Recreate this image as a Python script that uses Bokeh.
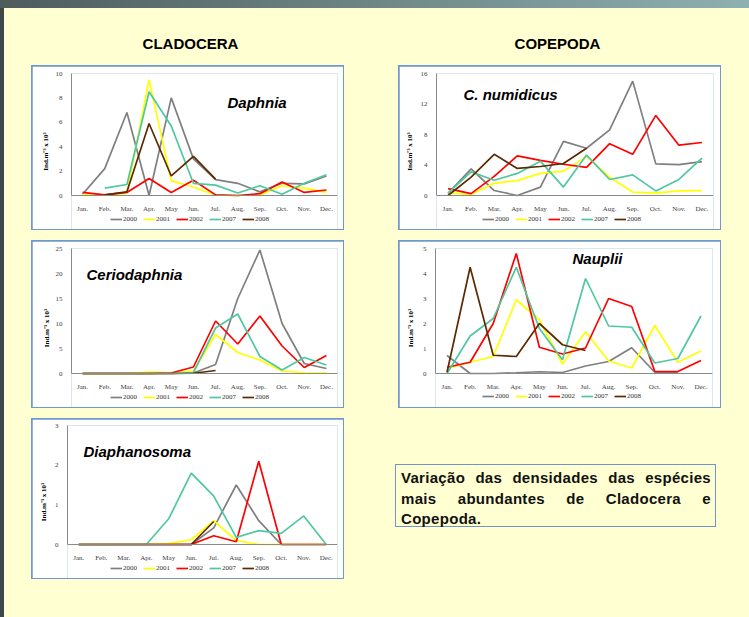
import numpy as np
from bokeh.plotting import figure
from bokeh.models import Range1d, FixedTicker, Legend, LegendItem, Label, Div, Spacer
from bokeh.layouts import column, row
from bokeh.embed import file_html
from bokeh.resources import INLINE

NA = np.nan

months = ["Jan.", "Feb.", "Mar.", "Apr.", "May", "Jun.", "Jul.", "Aug.", "Sep.", "Oct.", "Nov.", "Dec."]
years = ["2000", "2001", "2002", "2007", "2008"]
y_label = "Ind.m\u207b\u00b3 x 10\u00b3"

daphnia = {
    "2000": [0.1, 2.2, 6.8, 0.0, 8.0, 3.0, 1.3, 1.0, 0.3, 1.0, 0.95, 1.6],
    "2001": [0.1, 0.0, 0.2, 9.5, 1.2, 0.7, 0.05, 0.0, 0.05, 0.8, 0.6, 0.25],
    "2002": [0.25, 0.05, 0.25, 1.4, 0.25, 1.25, 0.05, 0.0, 0.15, 1.1, 0.25, 0.45],
    "2007": [NA, 0.6, 0.9, 8.5, 5.7, 1.0, 0.85, 0.2, 0.8, 0.1, 1.0, 1.7],
    "2008": [NA, 0.05, 0.3, 5.9, 1.6, 3.2, 1.35, NA, NA, NA, NA, NA],
}
c_numidicus = {
    "2000": [0.3, 3.5, 0.65, 0.0, 1.1, 7.1, 6.2, 8.6, 15.0, 4.15, 4.05, 4.45],
    "2001": [0.35, 0.15, 1.6, 1.95, 2.9, 3.2, 5.1, 2.4, 0.45, 0.3, 0.6, 0.65],
    "2002": [0.9, 0.25, 2.5, 5.2, 4.6, 4.1, 3.7, 6.8, 5.4, 10.5, 6.6, 6.95],
    "2007": [0.3, 3.1, 2.0, 2.9, 4.5, 1.1, 5.3, 2.1, 2.7, 0.6, 2.1, 4.9],
    "2008": [0.0, 2.4, 5.4, 3.55, 3.8, 4.2, 6.2, NA, NA, NA, NA, NA],
}
ceriodaphnia = {
    "2000": [0, 0, 0, 0, 0, 0.1, 1.8, 15.0, 24.7, 10.0, 2.0, 1.0],
    "2001": [0, 0, 0, 0.3, 0.15, 0.5, 7.8, 4.2, 2.7, 0.5, 0.15, 0.1],
    "2002": [0, 0, 0, 0, 0.1, 1.3, 10.5, 5.9, 11.5, 5.5, 1.2, 3.6],
    "2007": [0, 0, 0, 0, 0, 0.2, 9.1, 11.9, 3.4, 0.7, 3.2, 1.7],
    "2008": [0, 0, 0, 0, 0, 0.05, 0.6, NA, NA, NA, NA, NA],
}
nauplii = {
    "2000": [0.72, 0.0, 0.0, 0.03, 0.07, 0.04, 0.3, 0.48, 1.03, 0.05, 0.05, NA],
    "2001": [0.2, 0.45, 0.68, 2.95, 2.15, 0.38, 1.67, 0.5, 0.22, 1.92, 0.45, 0.9],
    "2002": [0.25, 0.45, 2.0, 4.8, 1.05, 0.78, 1.02, 3.0, 2.68, 0.08, 0.08, 0.52],
    "2007": [0.0, 1.5, 2.2, 4.25, 1.8, 0.55, 3.8, 1.9, 1.85, 0.42, 0.6, 2.3],
    "2008": [0.05, 4.25, 0.73, 0.68, 2.0, 1.15, 0.92, NA, NA, NA, NA, NA],
}
diaphanosoma = {
    "2000": [0, 0, 0, 0, 0, 0, 0.42, 1.5, 0.6, 0.0, 0, 0],
    "2001": [0, 0, 0, 0, 0.02, 0.12, 0.6, 0.1, 0.0, 0.0, 0, 0],
    "2002": [0, 0, 0, 0, 0, 0, 0.22, 0.07, 2.1, 0, 0, 0],
    "2007": [0, 0, 0, 0, 0.65, 1.8, 1.22, 0.18, 0.35, 0.28, 0.72, 0.0],
    "2008": [0, 0, 0, 0, 0, 0, 0.58, NA, NA, NA, NA, NA],
}

colors = {"2000": "#7F7F7F", "2001": "#FFFF00", "2002": "#FF0000",
          "2007": "#4FC8A0", "2008": "#5C2A00"}
BG = "#FFFFD2"
BORDER = "#6F98CF"
SERIF = "Liberation Serif"
SANS = "Liberation Sans"


def make_panel(data, ymax, ystep, title, pw, ph, ml, mr, mt, below,
               title_dx, title_dy, lab_standoff, leg_dx, leg_up):
    # below: pixels between y=0 and the bottom of the panel canvas
    w, h = pw - 2, ph - 2
    plot_h = h - mt - below          # pixel height of the 0..ymax span
    ymin = -ymax * below / plot_h
    p = figure(width=w, height=h, x_range=Range1d(0.5, 12.5), y_range=Range1d(ymin, ymax),
               output_backend="svg", toolbar_location=None,
               min_border_left=ml, min_border_right=mr, min_border_top=mt, min_border_bottom=0)
    p.margin = (1, 1, 1, 1)
    p.border_fill_color = "white"
    p.background_fill_color = "white"
    p.outline_line_color = None
    p.xgrid.visible = False
    p.ygrid.visible = False

    x = np.arange(1, 13)
    p.xaxis.fixed_location = 0
    p.xaxis.ticker = FixedTicker(ticks=list(range(1, 13)))
    p.xaxis.major_label_overrides = {i + 1: m for i, m in enumerate(months)}
    p.yaxis.ticker = FixedTicker(ticks=list(np.arange(0, ymax + ystep / 2, ystep)))
    p.yaxis.bounds = (0, ymax)
    for ax in (p.xaxis[0], p.yaxis[0]):
        ax.axis_line_color = "#8A8A8A"
        ax.major_tick_line_color = None
        ax.minor_tick_line_color = None
        ax.major_label_text_font = SERIF
        ax.major_label_text_font_size = "7px"
        ax.major_label_text_color = "#404040"
    p.xaxis.major_label_standoff = 3
    p.yaxis.major_label_standoff = 3
    p.yaxis.axis_label = y_label
    p.yaxis.axis_label_text_font = SERIF
    p.yaxis.axis_label_text_font_style = "bold"
    p.yaxis.axis_label_text_font_size = "7px"
    p.yaxis.axis_label_text_color = "black"
    p.yaxis.axis_label_standoff = lab_standoff

    items = []
    for yr in years:
        r = p.line(x=x, y=np.array(data[yr], dtype=float), line_color=colors[yr], line_width=1.7)
        items.append(LegendItem(label=yr, renderers=[r]))

    legend = Legend(items=items, orientation="horizontal", location=(leg_dx, leg_up),
                    border_line_color=None, background_fill_alpha=0,
                    label_text_font=SERIF, label_text_font_size="7px", label_text_color="#333333",
                    glyph_width=12, glyph_height=8, label_height=8, label_width=14,
                    label_standoff=1, spacing=6, padding=0, margin=0)
    p.add_layout(legend)

    fw = w - ml - mr
    tx = 0.5 + title_dx / fw * 12
    ty = ymax * (1 - title_dy / plot_h)
    p.add_layout(Label(x=tx, y=ty, text=title, text_font=SANS, text_font_style="bold italic",
                       text_font_size="15px", text_baseline="middle", text_align="left",
                       text_color="black"))
    return column(p, styles={"background-color": BORDER})


p_daph = make_panel(daphnia, 10, 2, "Daphnia", 313, 165, 39, 6, 7, 34, 156, 29, 3, 39, 6)
p_cnum = make_panel(c_numidicus, 16, 4, "C.  numidicus", 323, 165, 37, 7, 7, 34, 27, 21, 4, 46, 6)
p_cer = make_panel(ceriodaphnia, 25, 5, "Ceriodaphnia", 313, 168, 39, 6, 7, 34, 15, 26, 2, 39, 6)
p_nau = make_panel(nauplii, 5, 1, "Nauplii", 323, 168, 36, 8, 7, 34, 137, 10, 5, 47, 7)
p_dia = make_panel(diaphanosoma, 3, 1, "Diaphanosoma", 313, 161, 35, 6, 6, 34, 16, 26, 4, 43, 6)

hdr_style = ("text-align:center;font-family:'Liberation Sans',Arial,sans-serif;font-weight:bold;"
             "font-size:15px;line-height:17px;padding-top:27px;color:#000;")
h1 = Div(text=f"<div style=\"width:373px;{hdr_style}\">CLADOCERA</div>", width=373, height=57, margin=0)
h2 = Div(text=f"<div style=\"width:361px;{hdr_style}\">COPEPODA</div>", width=361, height=57, margin=0)

box_style = ("box-sizing:border-box;width:321px;height:63px;border:1px solid #6F95C8;"
             f"background:{BG};padding:3px 4px 0 5px;font-family:'Liberation Sans',Arial,sans-serif;"
             "font-weight:bold;font-size:15px;line-height:20.5px;text-align:justify;"
             "letter-spacing:0.3px;color:#111;")
tbox = Div(text=f"<div style=\"{box_style}\">Variação das densidades das espécies mais abundantes "
                "de Cladocera e Copepoda.</div>", width=321, height=63, margin=0)

top_bar = Div(text="", width=749, height=8, margin=0,
              styles={"background": "linear-gradient(to right, #4E5C5C, #8FB0B0)"})
left_bar = Div(text="", width=4, height=609, margin=0, styles={"background-color": "#3E4848"})

main = column(
    row(h1, h2),
    row(Spacer(width=27, height=165), p_daph, Spacer(width=54, height=165), p_cnum),
    Spacer(width=745, height=10),
    row(Spacer(width=27, height=168), p_cer, Spacer(width=54, height=168), p_nau),
    Spacer(width=745, height=10),
    row(Spacer(width=27, height=161), p_dia, Spacer(width=51, height=161),
        column(Spacer(width=321, height=46), tbox)),
    width=745, height=609,
    styles={"background-color": BG},
)

layout = column(top_bar, row(left_bar, main), width=749, height=617)

open("out.html", "w").write(file_html(layout, INLINE))
